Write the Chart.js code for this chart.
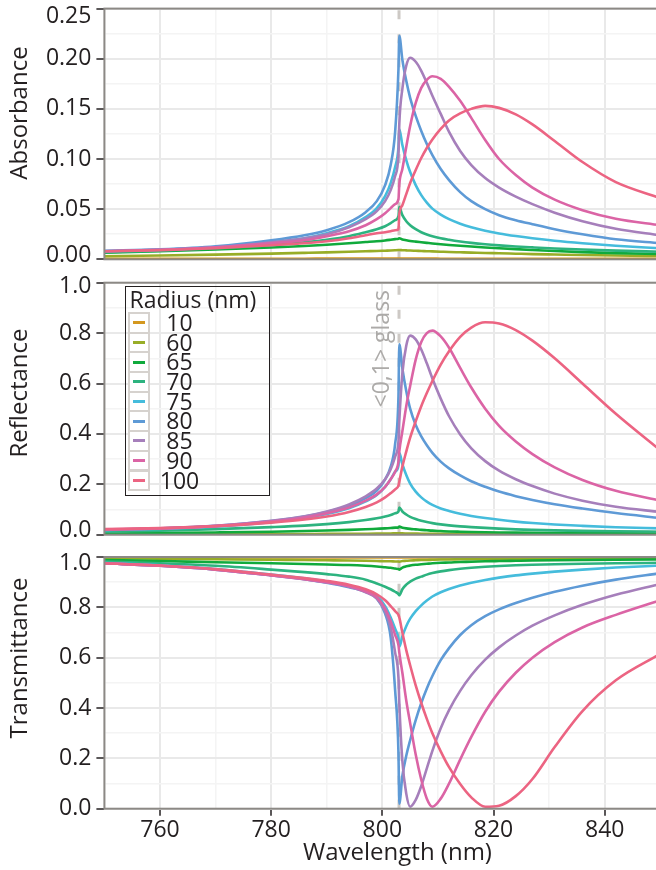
<!DOCTYPE html>
<html lang="en">
<head>
<meta charset="utf-8">
<title>Absorbance, reflectance and transmittance</title>
<script src="https://cdn.jsdelivr.net/npm/chart.js@4.4.1/dist/chart.umd.min.js"></script>
<style>
    html, body { margin: 0; padding: 0; background: #fff; }
    body { position: relative; width: 656px; height: 870px; overflow: hidden; font-family: 'Open Sans', sans-serif; color: #231f20; }
    canvas { position: absolute; left: 0; }
    #legend { position: absolute; left: 124.5px; top: 285.5px; width: 143px; height: 208px; border: 1.5px solid #231f20; }
    #legend .title { position: absolute; left: 4px; top: -3px; font-size: 23px; line-height: 30px; white-space: nowrap; }
    #legend .row { position: absolute; left: 0; width: 143px; height: 19.7px; }
    #legend .key { position: absolute; left: 2.3px; top: -1px; width: 22.4px; height: 21.7px; box-sizing: border-box; border: 2px solid #d6d2ce; background: #fff; }
    #legend .key span { position: absolute; left: 3px; right: 3px; top: 7.35px; height: 3px; }
    #legend .lab { position: absolute; left: 34px; top: 0; width: 40px; text-align: center; font-size: 23px; line-height: 19.7px; }
</style>
</head>
<body>
<canvas id="absChart" width="664" height="270" style="top:0"></canvas>
<canvas id="refChart" width="664" height="275" style="top:270px"></canvas>
<canvas id="traChart" width="664" height="325" style="top:545px"></canvas>
<div id="legend"><div class="title">Radius (nm)</div></div>
<script>
const wavelength = [750, 760, 770, 780, 786, 790, 794, 797, 799, 800.5, 801.5, 802.3, 802.9, 803.05, 803.6, 804.3, 805, 806, 807, 808, 809, 810.5, 812, 814, 816, 818.5, 821, 824, 827, 831, 836, 842, 850];
const radii = [10, 60, 65, 70, 75, 80, 85, 90, 100];
const lineColors = ['#d4981f', '#98ad27', '#10aa3c', '#2db37f', '#45bcdc', '#5e9ad6', '#a67fbb', '#db64a5', '#ec6482'];
const glassWavelength = 803;
const glassLabel = '<0,1> glass';

// absorbance, one array per radius
const abs10 = [0.0005, 0.0005, 0.0006, 0.0006, 0.0006, 0.0007, 0.0007, 0.0007, 0.0007, 0.0008, 0.0008, 0.0008, 0.0008, 0.0008, 0.0008, 0.0008, 0.0007, 0.0007, 0.0007, 0.0007, 0.0007, 0.0006, 0.0006, 0.0006, 0.0006, 0.0006, 0.0006, 0.0005, 0.0005, 0.0005, 0.0005, 0.0005, 0.0005];
const abs60 = [0.003, 0.0038, 0.0047, 0.0057, 0.0064, 0.0069, 0.0075, 0.008, 0.0083, 0.0086, 0.0088, 0.009, 0.0092, 0.0093, 0.0091, 0.0089, 0.0087, 0.0085, 0.0083, 0.0081, 0.0079, 0.0076, 0.0073, 0.007, 0.0067, 0.0063, 0.006, 0.0056, 0.0052, 0.0048, 0.0043, 0.0038, 0.0033];
const abs65 = [0.0065, 0.008, 0.0098, 0.0118, 0.0133, 0.0145, 0.016, 0.0172, 0.018, 0.0188, 0.0195, 0.0201, 0.0206, 0.021, 0.0198, 0.019, 0.0183, 0.0176, 0.017, 0.0164, 0.0158, 0.015, 0.0143, 0.0135, 0.0127, 0.0118, 0.011, 0.0101, 0.0093, 0.0083, 0.0072, 0.0062, 0.0053];
const abs70 = [0.007, 0.0085, 0.011, 0.014, 0.017, 0.0195, 0.023, 0.027, 0.030, 0.033, 0.036, 0.039, 0.043, 0.052, 0.044, 0.038, 0.034, 0.030, 0.027, 0.0248, 0.023, 0.021, 0.0195, 0.0178, 0.0164, 0.015, 0.0139, 0.0128, 0.0119, 0.0108, 0.0097, 0.0087, 0.0076];
const abs75 = [0.008, 0.0095, 0.012, 0.017, 0.021, 0.026, 0.033, 0.042, 0.051, 0.063, 0.076, 0.092, 0.112, 0.13, 0.114, 0.099, 0.087, 0.074, 0.064, 0.0565, 0.0505, 0.0445, 0.040, 0.0355, 0.032, 0.0285, 0.0258, 0.0232, 0.021, 0.0185, 0.016, 0.0135, 0.011];
const abs80 = [0.0085, 0.010, 0.013, 0.019, 0.024, 0.029, 0.037, 0.047, 0.058, 0.074, 0.094, 0.127, 0.19, 0.223, 0.199, 0.178, 0.161, 0.143, 0.128, 0.115, 0.104, 0.090, 0.079, 0.067, 0.058, 0.050, 0.044, 0.039, 0.035, 0.030, 0.025, 0.020, 0.016];
const abs85 = [0.008, 0.0095, 0.012, 0.017, 0.021, 0.025, 0.032, 0.040, 0.048, 0.058, 0.069, 0.083, 0.105, 0.135, 0.17, 0.193, 0.201, 0.197, 0.188, 0.176, 0.163, 0.145, 0.127, 0.108, 0.094, 0.081, 0.0715, 0.0625, 0.055, 0.0465, 0.038, 0.0305, 0.024];
const abs90 = [0.008, 0.0095, 0.012, 0.016, 0.019, 0.023, 0.028, 0.034, 0.040, 0.046, 0.051, 0.055, 0.060, 0.075, 0.090, 0.112, 0.133, 0.156, 0.171, 0.179, 0.1825, 0.180, 0.172, 0.158, 0.141, 0.119, 0.100, 0.084, 0.0715, 0.0595, 0.049, 0.0405, 0.034];
const abs100 = [0.008, 0.009, 0.011, 0.014, 0.016, 0.018, 0.021, 0.024, 0.026, 0.027, 0.028, 0.029, 0.030, 0.045, 0.054, 0.065, 0.076, 0.089, 0.101, 0.111, 0.1195, 0.130, 0.1385, 0.1455, 0.150, 0.153, 0.151, 0.1445, 0.1345, 0.118, 0.097, 0.077, 0.061];

// reflectance
const ref10 = [0.0003, 0.0003, 0.0003, 0.0003, 0.0003, 0.0003, 0.0003, 0.0003, 0.0003, 0.0003, 0.0003, 0.0003, 0.0003, 0.0003, 0.0003, 0.0003, 0.0003, 0.0003, 0.0003, 0.0003, 0.0003, 0.0003, 0.0003, 0.0003, 0.0003, 0.0003, 0.0003, 0.0003, 0.0003, 0.0003, 0.0003, 0.0003, 0.0003];
const ref60 = [0.001, 0.0014, 0.0019, 0.0025, 0.0029, 0.0032, 0.0036, 0.004, 0.0043, 0.0046, 0.0049, 0.0052, 0.0054, 0.0056, 0.0052, 0.0049, 0.0046, 0.0043, 0.004, 0.0038, 0.0036, 0.0033, 0.0031, 0.0029, 0.0027, 0.0025, 0.0023, 0.0021, 0.002, 0.0018, 0.0016, 0.0015, 0.0014];
const ref65 = [0.004, 0.0065, 0.009, 0.012, 0.0145, 0.0165, 0.019, 0.0215, 0.0235, 0.025, 0.0265, 0.028, 0.029, 0.032, 0.028, 0.025, 0.023, 0.021, 0.019, 0.0175, 0.016, 0.0145, 0.013, 0.0118, 0.0108, 0.0098, 0.009, 0.0082, 0.0075, 0.0068, 0.006, 0.0052, 0.0045];
const ref70 = [0.012, 0.016, 0.022, 0.03, 0.036, 0.042, 0.05, 0.058, 0.065, 0.072, 0.078, 0.085, 0.092, 0.108, 0.092, 0.08, 0.071, 0.062, 0.055, 0.05, 0.046, 0.041, 0.037, 0.033, 0.03, 0.027, 0.024, 0.021, 0.019, 0.017, 0.015, 0.0135, 0.012];
const ref75 = [0.018, 0.023, 0.032, 0.05, 0.066, 0.082, 0.105, 0.132, 0.158, 0.19, 0.22, 0.25, 0.275, 0.325, 0.28, 0.237, 0.203, 0.171, 0.148, 0.131, 0.118, 0.104, 0.094, 0.083, 0.0745, 0.066, 0.059, 0.052, 0.0465, 0.0405, 0.035, 0.0295, 0.025];
const ref80 = [0.019, 0.025, 0.035, 0.054, 0.072, 0.09, 0.115, 0.145, 0.175, 0.22, 0.27, 0.36, 0.55, 0.756, 0.66, 0.57, 0.50, 0.435, 0.39, 0.355, 0.325, 0.29, 0.263, 0.235, 0.212, 0.19, 0.171, 0.153, 0.138, 0.121, 0.104, 0.086, 0.066];
const ref85 = [0.02, 0.025, 0.035, 0.055, 0.073, 0.092, 0.12, 0.152, 0.183, 0.22, 0.26, 0.31, 0.37, 0.45, 0.64, 0.75, 0.79, 0.775, 0.735, 0.68, 0.62, 0.54, 0.47, 0.398, 0.343, 0.292, 0.254, 0.22, 0.193, 0.163, 0.135, 0.111, 0.09];
const ref90 = [0.021, 0.025, 0.034, 0.052, 0.068, 0.085, 0.108, 0.135, 0.16, 0.19, 0.22, 0.25, 0.29, 0.33, 0.41, 0.51, 0.59, 0.695, 0.765, 0.80, 0.81, 0.787, 0.742, 0.662, 0.584, 0.50, 0.432, 0.37, 0.32, 0.267, 0.217, 0.174, 0.135];
const ref100 = [0.022, 0.026, 0.034, 0.048, 0.06, 0.072, 0.09, 0.11, 0.128, 0.148, 0.165, 0.18, 0.195, 0.21, 0.27, 0.33, 0.385, 0.45, 0.51, 0.562, 0.61, 0.675, 0.728, 0.785, 0.822, 0.843, 0.838, 0.812, 0.77, 0.70, 0.60, 0.48, 0.335];

// transmittance
const tra10 = [0.998, 0.998, 0.998, 0.998, 0.998, 0.998, 0.998, 0.998, 0.998, 0.998, 0.998, 0.998, 0.998, 0.998, 0.998, 0.998, 0.998, 0.998, 0.998, 0.998, 0.998, 0.998, 0.998, 0.998, 0.998, 0.998, 0.998, 0.998, 0.998, 0.998, 0.998, 0.998, 0.998];
const tra60 = [0.995, 0.993, 0.991, 0.989, 0.988, 0.987, 0.986, 0.985, 0.984, 0.983, 0.983, 0.982, 0.982, 0.981, 0.984, 0.985, 0.986, 0.987, 0.988, 0.988, 0.989, 0.99, 0.99, 0.991, 0.991, 0.992, 0.992, 0.993, 0.993, 0.994, 0.994, 0.995, 0.995];
const tra65 = [0.988, 0.984, 0.979, 0.975, 0.972, 0.97, 0.968, 0.965, 0.962, 0.959, 0.957, 0.954, 0.952, 0.95, 0.958, 0.963, 0.966, 0.969, 0.971, 0.973, 0.975, 0.977, 0.978, 0.98, 0.981, 0.983, 0.984, 0.985, 0.986, 0.987, 0.988, 0.989, 0.99];
const tra70 = [0.982, 0.975, 0.965, 0.95, 0.94, 0.932, 0.922, 0.91, 0.895, 0.882, 0.872, 0.862, 0.853, 0.848, 0.872, 0.89, 0.902, 0.914, 0.922, 0.93, 0.936, 0.943, 0.948, 0.953, 0.957, 0.961, 0.964, 0.967, 0.969, 0.971, 0.973, 0.975, 0.977];
const tra75 = [0.977, 0.967, 0.952, 0.93, 0.915, 0.903, 0.887, 0.868, 0.845, 0.805, 0.76, 0.715, 0.675, 0.643, 0.685, 0.725, 0.755, 0.785, 0.808, 0.827, 0.843, 0.86, 0.873, 0.887, 0.898, 0.909, 0.918, 0.927, 0.934, 0.942, 0.95, 0.958, 0.966];
const tra80 = [0.975, 0.965, 0.95, 0.927, 0.912, 0.898, 0.88, 0.862, 0.835, 0.775, 0.68, 0.47, 0.22, 0.02, 0.13, 0.21, 0.272, 0.352, 0.42, 0.478, 0.527, 0.59, 0.638, 0.69, 0.729, 0.765, 0.792, 0.817, 0.838, 0.862, 0.886, 0.91, 0.936];
const tra85 = [0.975, 0.965, 0.95, 0.927, 0.912, 0.899, 0.882, 0.86, 0.835, 0.785, 0.72, 0.62, 0.52, 0.42, 0.19, 0.06, 0.008, 0.035, 0.09, 0.16, 0.23, 0.32, 0.392, 0.468, 0.53, 0.592, 0.641, 0.688, 0.727, 0.768, 0.81, 0.85, 0.893];
const tra90 = [0.975, 0.965, 0.95, 0.927, 0.912, 0.9, 0.884, 0.863, 0.84, 0.795, 0.745, 0.69, 0.65, 0.62, 0.54, 0.43, 0.34, 0.215, 0.115, 0.04, 0.008, 0.04, 0.10, 0.195, 0.285, 0.385, 0.465, 0.54, 0.60, 0.662, 0.72, 0.77, 0.828];
const tra100 = [0.975, 0.966, 0.952, 0.93, 0.916, 0.905, 0.89, 0.872, 0.852, 0.828, 0.805, 0.785, 0.77, 0.76, 0.70, 0.63, 0.57, 0.49, 0.42, 0.357, 0.30, 0.228, 0.165, 0.098, 0.045, 0.008, 0.012, 0.05, 0.118, 0.245, 0.388, 0.51, 0.615];

const FONT = "'Open Sans', 'DejaVu Sans', sans-serif";
const INK = '#231f20';

function toPoints(values) {
    return wavelength.map((w, i) => ({x: w, y: values[i]}));
}

function buildDatasets(series, yMax) {
    const sets = series.map((values, i) => ({
        label: radii[i] + ' nm',
        data: toPoints(values),
        borderColor: lineColors[i],
        borderWidth: 2.6,
        pointRadius: 0,
        cubicInterpolationMode: 'monotone',
        order: series.length - i
    }));
    // vertical marker at the glass Rayleigh anomaly
    sets.push({
        label: glassLabel,
        data: [{x: glassWavelength, y: 0}, {x: glassWavelength, y: yMax}],
        borderColor: '#cdc9c5',
        borderWidth: 3,
        borderDash: [9, 15],
        pointRadius: 0,
        order: 50
    });
    return sets;
}

function gridOpts(step, tickLen) {
    const major = c => c.tick && Math.round(c.tick.value / step) % 2 === 0;
    return {
        color: c => major(c) ? '#e9e9e9' : '#f4f4f4',
        lineWidth: c => major(c) ? 2 : 1.5,
        drawTicks: tickLen > 0,
        tickLength: tickLen,
        tickColor: c => major(c) ? INK : 'rgba(0,0,0,0)',
        tickWidth: 1.5
    };
}

function xScale(showLabels) {
    return {
        type: 'linear', min: 750, max: 850,
        afterFit(s) { s.height = showLabels ? 61.3 : 0; s.paddingLeft = 0; s.paddingRight = 0; },
        ticks: {
            display: showLabels, stepSize: 10, autoSkip: false, maxRotation: 0, padding: 1,
            color: INK, font: {family: FONT, size: 23},
            callback: v => v % 20 === 0 ? String(v) : ''
        },
        grid: gridOpts(10, showLabels ? 7 : 0),
        border: {display: false}
    };
}

// end labels are nudged inside the panel, like the original figure
function yScale(max, step, decimals, shift) {
    return {
        min: 0, max: max,
        afterFit(s) { s.width = 104.4; s.paddingTop = 0; s.paddingBottom = 0; },
        ticks: {
            stepSize: step, autoSkip: false, padding: 5,
            color: INK, font: {family: FONT, size: 23, lineHeight: shift.lh},
            callback: (v, i, ticks) => {
                if (Math.round(v / step) % 2 !== 0) return '';
                const t = v.toFixed(decimals);
                if (i === ticks.length - 1 && shift.top) return shift.top === 2 ? ['', '', t] : ['', t];
                if (i === 0 && shift.bottom) return [t, ''];
                return t;
            }
        },
        grid: gridOpts(step, 8),
        border: {display: false}
    };
}

// frame, axis titles and the glass label
const panelDecor = {
    id: 'panelDecor',
    afterDatasetsDraw(chart, args, opts) {
        const ctx = chart.ctx, a = chart.chartArea;
        ctx.save();
        ctx.strokeStyle = '#8c8985';
        ctx.lineWidth = 2;
        ctx.strokeRect(a.left, a.top, a.right - a.left, a.bottom - a.top);
        ctx.fillStyle = INK;
        ctx.font = '24px ' + FONT;
        ctx.textAlign = 'center';
        ctx.textBaseline = 'alphabetic';
        ctx.save();
        ctx.translate(27, opts.yTitleY);
        ctx.rotate(-Math.PI / 2);
        ctx.fillText(opts.yTitle, 0, 0);
        ctx.restore();
        if (opts.xTitle) ctx.fillText(opts.xTitle, 397.5, opts.xTitleY);
        if (opts.glass) {
            ctx.font = '23px ' + FONT;
            ctx.fillStyle = '#acaaa8';
            ctx.translate(chart.scales.x.getPixelForValue(glassWavelength) - 10, a.top + 66);
            ctx.rotate(-Math.PI / 2);
            ctx.fillText(glassLabel, 0, 0);
        }
        ctx.restore();
    }
};

function makeChart(id, series, yMax, step, decimals, shift, pad, decor, showX) {
    return new Chart(document.getElementById(id), {
        type: 'line',
        data: {datasets: buildDatasets(series, yMax)},
        options: {
            responsive: false,
            animation: false,
            layout: {padding: {top: pad[0], bottom: pad[1], left: 0, right: 3.7}},
            scales: {x: xScale(showX), y: yScale(yMax, step, decimals, shift)},
            plugins: {legend: {display: false}, tooltip: {enabled: false}, panelDecor: decor}
        },
        plugins: [panelDecor]
    });
}

makeChart('absChart', [abs10, abs60, abs65, abs70, abs75, abs80, abs85, abs90, abs100], 0.25, 0.025, 2,
    {lh: '8px', top: 2, bottom: 1}, [8.6, 10.7], {yTitle: 'Absorbance', yTitleY: 113}, false);
makeChart('refChart', [ref10, ref60, ref65, ref70, ref75, ref80, ref85, ref90, ref100], 1, 0.1, 1,
    {lh: '8px', top: 1, bottom: 1}, [12.7, 10.3], {yTitle: 'Reflectance', yTitleY: 123, glass: true}, false);
makeChart('traChart', [tra10, tra60, tra65, tra70, tra75, tra80, tra85, tra90, tra100], 1, 0.1, 1,
    {lh: '12px', top: 1, bottom: 0}, [12, 0], {yTitle: 'Transmittance', yTitleY: 113, xTitle: 'Wavelength (nm)', xTitleY: 315}, true);

const legend = document.getElementById('legend');
radii.forEach((r, i) => {
    const row = document.createElement('div');
    row.className = 'row';
    row.style.top = (26.4 + 19.7 * i) + 'px';
    row.innerHTML = '<div class="key"><span style="background:' + lineColors[i] + '"></span></div><div class="lab">' + r + '</div>';
    legend.appendChild(row);
});
</script>
</body>
</html>
